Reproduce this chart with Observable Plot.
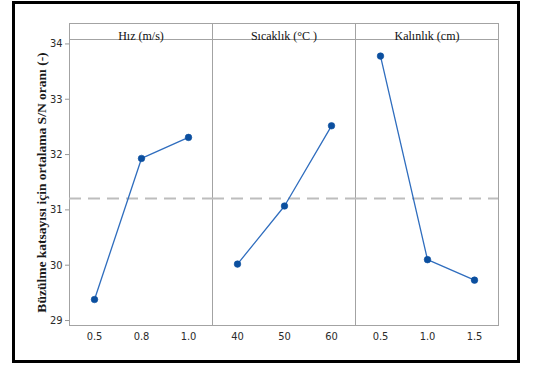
<!DOCTYPE html>
<html>
<head>
<meta charset="utf-8">
<script src="https://cdn.jsdelivr.net/npm/d3@7"></script>
<script src="https://cdn.jsdelivr.net/npm/@observablehq/plot@0.6"></script>
<style>
  html, body { margin: 0; padding: 0; background: #fff; }
  #chart { position: absolute; left: 0; top: 0; }
  #border { position: absolute; left: 12px; top: 1px; width: 508px; height: 362px; box-sizing: border-box; border: 3px solid #000; pointer-events: none; }
  .serifTxt, .serifTxt text { font-family: "Liberation Serif", "DejaVu Serif", serif !important; }
  .condTxt, .condTxt text { font-family: "Liberation Sans Narrow", "DejaVu Sans Condensed", "DejaVu Sans", sans-serif !important; font-stretch: condensed; }
  svg [aria-label="y-axis label"], svg [aria-label="y-axis label"] text { font-family: "Liberation Serif", "DejaVu Serif", serif !important; font-weight: bold !important; font-size: 13.5px !important; fill: #1a1a1a; }
</style>
</head>
<body>
<div id="chart"></div>
<div id="border"></div>
<script>
const factors = ["Hız (m/s)", "Sıcaklık (°C )", "Kalınlık (cm)"];
const hizLevels = ["0.5", "0.8", "1.0"];
const hizValues = [29.38, 31.93, 32.31];
const sicaklikLevels = ["40", "50", "60"];
const sicaklikValues = [30.02, 31.07, 32.52];
const kalinlikLevels = ["0.5", "1.0", "1.5"];
const kalinlikValues = [33.78, 30.10, 29.73];
const yTicks = [29, 30, 31, 32, 33, 34];
const yLabel = "Büzülme katsayısı için ortalama S/N oranı (-)";

const levelSets = [hizLevels, sicaklikLevels, kalinlikLevels];
const valueSets = [hizValues, sicaklikValues, kalinlikValues];
const rows = factors.flatMap((f, i) => levelSets[i].map((l, j) => ({factor: f, idx: j, level: l, value: valueSets[i][j]})));
const mean = d3.mean(rows, d => d.value);

const chart = Plot.plot({
  width: 546,
  height: 365,
  marginLeft: 68,
  marginRight: 48,
  marginTop: 39,
  marginBottom: 40,
  style: {background: "transparent"},
  fx: {domain: factors, padding: 0, axis: null},
  x: {type: "point", domain: [0, 1, 2], padding: 0.5, axis: null},
  y: {domain: [28.91, 34.08]},
  marks: [
    Plot.frame({stroke: "#a3a3a3"}),
    Plot.frame({stroke: "#a3a3a3", insetTop: -16}),
    Plot.axisY(yTicks, {
      tickSize: 4, tickPadding: 3, stroke: "#999", color: "#2b2b2b",
      fontSize: 11, tickFormat: d => String(d), className: "condTxt",
      label: null
    }),
    Plot.axisY([], {
      tickSize: 0, color: "#1a1a1a",
      fontFamily: "Liberation Serif", fontWeight: "bold", fontSize: 13.5,
      label: yLabel, labelAnchor: "center", labelOffset: 33, labelArrow: "none"
    }),
    Plot.ruleY([mean], {stroke: "#bdbdbd", strokeWidth: 2, strokeDasharray: "12,7"}),
    Plot.line(rows, {fx: "factor", x: "idx", y: "value", stroke: "#2f6dbe", strokeWidth: 1.3}),
    Plot.dot(rows, {fx: "factor", x: "idx", y: "value", r: 3.3, fill: "#0b4f9f", stroke: "#0b4f9f", strokeWidth: 0.6}),
    Plot.text(rows, {fx: "factor", x: "idx", text: "level", frameAnchor: "bottom", dy: 14, fontSize: 11, fill: "#2b2b2b", className: "condTxt"}),
    Plot.text(factors, {fx: d => d, text: d => d, frameAnchor: "top", dy: -8, fontSize: 12, fill: "#111", className: "serifTxt"})
  ]
});
document.getElementById("chart").appendChild(chart);
</script>
</body>
</html>
